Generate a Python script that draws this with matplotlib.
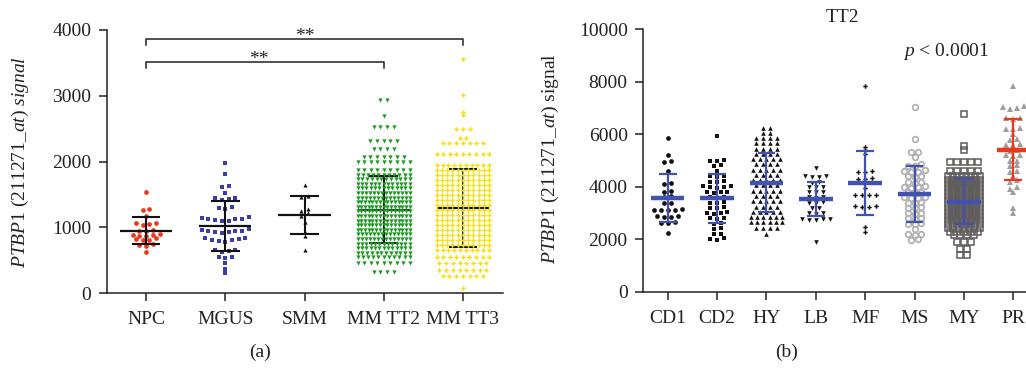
import numpy as np
import matplotlib
matplotlib.use("Agg")
from matplotlib import pyplot as plt

plt.rcParams['font.family'] = ['Liberation Serif', 'DejaVu Serif']
plt.rcParams['mathtext.fontset'] = 'custom'
plt.rcParams['mathtext.rm'] = 'Liberation Serif'
plt.rcParams['mathtext.it'] = 'Liberation Serif:italic'

# ---- panel (a) data ----
groups_a = ['NPC', 'MGUS', 'SMM', 'MM TT2', 'MM TT3']
npc = [1530, 1270, 1260, 1170, 1070, 1060, 1050, 1040, 960, 950, 950, 890,
       880, 880, 870, 860, 830, 820, 810, 800, 740, 730, 720, 620]
mgus = [1980, 1810, 1620, 1610, 1520, 1450, 1440, 1430, 1420, 1310, 1290, 1280,
        1150, 1140, 1130, 1120, 1120, 1110, 1100, 1090, 970, 960, 950, 940,
        940, 930, 930, 920, 840, 830, 820, 810, 800, 790, 780, 660, 650, 640,
        630, 550, 540, 530, 450, 370, 300]
smm = [1650, 1480, 1460, 1270, 1240, 1220, 1170, 1080, 930, 870, 650]
# large groups read as rows of the swarm: row level and number of points
tt2_levels = [2930, 2690, 2520, 2310, 2190, 2070, 1990, 1870, 1800, 1730, 1660,
              1590, 1520, 1450, 1380, 1310, 1240, 1170, 1100, 1030, 960, 890,
              820, 750, 680, 610, 540, 460, 320]
tt2_counts = [2, 1, 4, 5, 4, 7, 9, 9, 11, 12, 13, 13, 14, 14, 15, 15, 15, 15,
              15, 15, 15, 14, 14, 13, 13, 12, 11, 9, 4]
tt3_levels = [3560, 3010, 2760, 2700, 2490, 2360, 2280, 2110, 1950, 1870, 1800,
              1720, 1650, 1570, 1490, 1420, 1340, 1260, 1190, 1110, 1040, 960,
              880, 810, 730, 650, 550, 460, 350, 260, 80]
tt3_counts = [1, 1, 1, 1, 3, 2, 7, 9, 10, 11, 11, 11, 11, 11, 11, 11, 11, 11,
              11, 11, 11, 11, 11, 11, 11, 10, 9, 8, 8, 7, 1]

# ---- panel (b) data ----
groups_b = ['CD1', 'CD2', 'HY', 'LB', 'MF', 'MS', 'MY', 'PR']
cd1 = [5840, 5200, 4980, 4940, 4600, 4150, 4120, 3850, 3820, 3650, 3600, 3400,
       3380, 3150, 3130, 3120, 3110, 3100, 2900, 2880, 2860, 2840, 2660, 2640,
       2620, 2240]
cd2 = [5950, 5020, 5000, 4980, 4820, 4780, 4600, 4420, 4400, 4380, 4220, 4200,
       4180, 4040, 4020, 4000, 3980, 3960, 3820, 3800, 3790, 3780, 3620, 3600,
       3580, 3420, 3400, 3380, 3220, 3200, 3180, 3040, 3020, 3000, 2980, 2820,
       2800, 2780, 2620, 2600, 2420, 2400, 2220, 2200, 2040, 2000, 1980]
hy_levels = [6250, 6050, 5850, 5650, 5450, 5250, 5050, 4850, 4650, 4450, 4250,
             4050, 3850, 3650, 3450, 3250, 3050, 2850, 2650, 2450, 2200]
hy_counts = [2, 2, 4, 4, 4, 4, 5, 4, 5, 4, 5, 4, 5, 4, 5, 4, 5, 6, 6, 4, 1]
lb = [4700, 4420, 4400, 4380, 4360, 4180, 4160, 4000, 3990, 3980, 3820, 3800,
      3790, 3620, 3600, 3580, 3420, 3400, 3380, 3200, 3180, 3020, 3000, 2980,
      2790, 2780, 2760, 2740, 2720, 1900]
mf = [7850, 5520, 5400, 5250, 4600, 4580, 4560, 4330, 4310, 4300, 3950, 3700,
      3690, 3680, 3670, 3280, 3260, 3240, 3220, 2470, 2280]
ms = [7050, 5800, 5340, 5320, 5150, 4850, 4800, 4780, 4620, 4600, 4580, 4560,
      4420, 4400, 4380, 4200, 4180, 4160, 4020, 4000, 3980, 3960, 3820, 3800,
      3780, 3620, 3600, 3580, 3560, 3420, 3400, 3380, 3220, 3200, 3180, 3020,
      3000, 2980, 2820, 2800, 2780, 2620, 2600, 2580, 2400, 2220, 2200, 2180,
      2000, 1980]
my_levels = [6750, 5550, 5400, 4950, 4600, 4400, 4250, 4100, 3950, 3800, 3650,
             3500, 3350, 3200, 3050, 2900, 2750, 2600, 2450, 2300, 2150, 1900,
             1650, 1400]
my_counts = [1, 1, 1, 5, 5, 8, 9, 9, 10, 10, 10, 10, 10, 10, 10, 10, 9, 8, 7,
             5, 4, 3, 2, 2]
pr = [7850, 7080, 7040, 7000, 6960, 6620, 6600, 6580, 6220, 6200, 6180, 6000,
      5800, 5780, 5620, 5600, 5580, 5400, 5380, 5220, 5200, 5180, 5000, 4980,
      4820, 4800, 4600, 4580, 4400, 4250, 4200, 4000, 3900, 3800, 3200, 3000]


def swarm_x(values, centre, bin_h, step, half):
    # prism-like column scatter: values in the same bin sit side by side
    values = np.asarray(values, dtype=float)
    xs = np.zeros(len(values))
    bins = np.round(values / bin_h)
    for b in np.unique(bins):
        idx = np.where(bins == b)[0]
        idx = idx[np.argsort(values[idx], kind='stable')]
        n = len(idx)
        gap = step if n < 2 else min(step, 2 * half / (n - 1))
        slots = np.arange(n) - (n - 1) / 2
        order = np.argsort(np.abs(slots), kind='stable')
        xs[idx] = centre + slots[order] * gap
    return xs


def mean_sd(ax, i, vals, colour, mean_w, cap_w, lw_mean, lw, z):
    m = np.mean(vals)
    s = np.std(vals, ddof=1)
    ax.vlines(i, m - s, m + s, color=colour, lw=lw, zorder=z)
    ax.hlines([m - s, m + s], i - cap_w, i + cap_w, color=colour, lw=lw, zorder=z)
    ax.hlines(m, i - mean_w, i + mean_w, color=colour, lw=lw_mean, zorder=z)


def style_axes(ax):
    for side in ['top', 'right']:
        ax.spines[side].set_visible(False)
    for side in ['left', 'bottom']:
        ax.spines[side].set_linewidth(1.1)
        ax.spines[side].set_color('#222222')
    ax.tick_params(direction='out', length=6, width=1.1, labelsize=14,
                   color='#222222', labelcolor='#222222', pad=5)


W, H = 1026, 372
fig = plt.figure(figsize=(W / 100, H / 100), dpi=100)

# ---------------- panel (a) ----------------
ax1 = fig.add_axes([106.5 / W, (H - 293) / H, 396 / W, 263 / H])
style_axes(ax1)
tt2 = np.repeat(tt2_levels, tt2_counts)
tt3 = np.repeat(tt3_levels, tt3_counts)
data_a = [npc, mgus, smm, tt2, tt3]
bins_a = [80, 80, 80, 30, 30]
mk_a = [dict(marker='o', color='#e8391d', ms=3.4),
        dict(marker='s', color='#3a3da8', ms=3.3),
        dict(marker='^', color='#111111', ms=3.0),
        dict(marker='v', color='#1e9a24', ms=3.1),
        dict(marker='P', color='#f5e018', ms=3.3)]
for i, vals in enumerate(data_a):
    xs = swarm_x(vals, i, bins_a[i], 0.085, 0.33)
    ax1.plot(xs, vals, linestyle='none', mew=0, zorder=3, **mk_a[i])
    z = 2 if i >= 3 else 4
    mean_sd(ax1, i, vals, '#111111', 0.33, 0.18, 1.6, 1.5, z)

ax1.set_xlim(-0.5, 4.5)
ax1.set_ylim(0, 4000)
ax1.set_yticks([0, 1000, 2000, 3000, 4000])
ax1.set_xticks(range(5))
ax1.set_xticklabels(groups_a)
ax1.tick_params(axis='x', pad=7)

# significance brackets
ax1.plot([0, 0, 3, 3], [3420, 3515, 3515, 3420], color='#222222', lw=1.1,
         clip_on=False)
ax1.plot([0, 0, 4, 4], [3765, 3865, 3865, 3765], color='#222222', lw=1.1,
         clip_on=False)
ax1.text(1.42, 3480, '**', ha='center', va='baseline', fontsize=14,
         color='#222222')
ax1.text(2.0, 3830, '**', ha='center', va='baseline', fontsize=14,
         color='#222222')

fig.text(20 / W, 1 - 162 / H, r'$PTBP1$ (211271_$at$) $signal$', rotation=90,
         ha='center', va='center', fontsize=14, color='#222222')
fig.text(260 / W, 1 - 352 / H, '(a)', ha='center', va='center', fontsize=14,
         color='#222222')

# ---------------- panel (b) ----------------
ax2 = fig.add_axes([643 / W, (H - 292) / H, 395 / W, 263 / H])
style_axes(ax2)
hy = np.repeat(hy_levels, hy_counts)
my = np.repeat(my_levels, my_counts)
data_b = [cd1, cd2, hy, lb, mf, ms, my, pr]
bins_b = [200, 200, 100, 200, 200, 200, 100, 200]
mk_b = [dict(marker='o', color='#111111', ms=3.4, mew=0),
        dict(marker='s', color='#111111', ms=3.4, mew=0),
        dict(marker='^', color='#111111', ms=3.3, mew=0),
        dict(marker='v', color='#111111', ms=3.3, mew=0),
        dict(marker='P', color='#111111', ms=3.2, mew=0),
        dict(marker='o', mfc='none', mec='#b3b3b3', ms=4.0, mew=1.3),
        dict(marker='s', mfc='none', mec='#625d5d', ms=3.7, mew=1.1),
        dict(marker='^', color='#a39c9c', ms=4.6, mew=0)]
for i, vals in enumerate(data_b):
    xs = swarm_x(vals, i, bins_b[i], 0.14, 0.32)
    ax2.plot(xs, vals, linestyle='none', zorder=3, **mk_b[i])
    colour = '#e8391d' if groups_b[i] == 'PR' else '#4252b0'
    mean_sd(ax2, i, vals, colour, 0.34, 0.18, 3.2, 1.6, 4)

ax2.set_xlim(-0.5, 7.5)
ax2.set_ylim(0, 10000)
ax2.set_yticks(range(0, 10001, 2000))
ax2.set_xticks(range(8))
ax2.set_xticklabels(groups_b)
ax2.tick_params(axis='x', pad=7)

fig.text(842 / W, 1 - 17 / H, 'TT2', ha='center', va='center', fontsize=14,
         color='#222222')
fig.text(946 / W, 1 - 52 / H, r'$p$ < 0.0001', ha='center', va='center',
         fontsize=14, color='#222222')
fig.text(550 / W, 1 - 159 / H, r'$PTBP1$ (211271_$at$) signal', rotation=90,
         ha='center', va='center', fontsize=14, color='#222222')
fig.text(787 / W, 1 - 352 / H, '(b)', ha='center', va='center', fontsize=14,
         color='#222222')

fig.savefig('out.png', dpi=100)
